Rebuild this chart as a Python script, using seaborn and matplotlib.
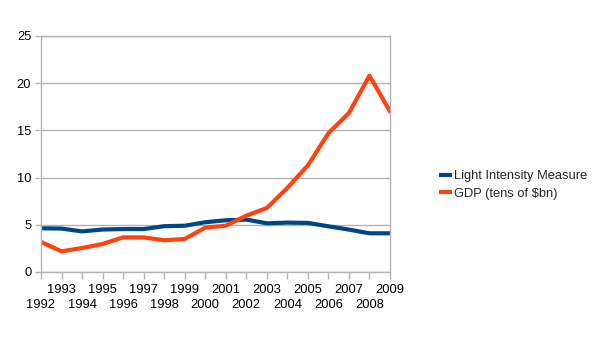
import matplotlib
matplotlib.use("Agg")
import matplotlib.pyplot as plt
import seaborn as sns
import pandas as pd
from matplotlib.lines import Line2D

years = list(range(1992, 2010))
light = [4.63, 4.6, 4.3, 4.5, 4.55, 4.55, 4.85, 4.9, 5.27, 5.48, 5.55, 5.16, 5.23, 5.2, 4.84, 4.49, 4.1, 4.1]
gdp = [3.18, 2.19, 2.54, 2.97, 3.67, 3.67, 3.36, 3.5, 4.7, 4.9, 5.97, 6.78, 8.9, 11.3, 14.7, 16.85, 20.8, 17.0]
series_names = ["Light Intensity Measure", "GDP (tens of $bn)"]
colors = ["#004586", "#ff420e"]
yticks = [0, 5, 10, 15, 20, 25]

df = pd.DataFrame({
    "year": years * 2,
    "value": light + gdp,
    "series": [series_names[0]] * len(years) + [series_names[1]] * len(years),
})

sns.set_style("white")
plt.rcParams["font.family"] = ["Liberation Sans", "DejaVu Sans"]
FS = 9.3

fig = plt.figure(figsize=(6.06, 3.41), dpi=100)
ax = fig.add_axes([41 / 606, 1 - 272 / 341, (390 - 41) / 606, (272 - 36) / 341])

sns.lineplot(data=df, x="year", y="value", hue="series", palette=colors,
             hue_order=series_names, linewidth=3.0, ax=ax, legend=False)

ax.set_xlim(1992, 2009)
ax.set_ylim(0, 25)
ax.set_yticks(yticks)
ax.set_yticklabels([str(t) for t in yticks], fontsize=FS)
odd_years = [y for y in years if y % 2 == 1]
even_years = [y for y in years if y % 2 == 0]
ax.set_xticks(odd_years)
ax.set_xticklabels([str(y) for y in odd_years], fontsize=FS)
ax.set_xticks(even_years, minor=True)
ax.set_xticklabels([str(y) for y in even_years], minor=True, fontsize=FS)
ax.set_xlabel("")
ax.set_ylabel("")
ax.grid(axis="y", color="#b3b3b3", linewidth=1)
ax.set_axisbelow(True)
for s in ax.spines.values():
    s.set_color("#b3b3b3")
    s.set_linewidth(1)
ax.tick_params(axis="y", which="major", direction="out", color="#b3b3b3",
               length=4, width=1, labelcolor="black", pad=3, left=True)
ax.tick_params(axis="x", which="major", direction="out", color="#b3b3b3",
               length=5, width=1, labelcolor="black", pad=3.5, bottom=True)
ax.tick_params(axis="x", which="minor", direction="out", color="#b3b3b3",
               length=5, width=1, labelcolor="black", pad=14.5, bottom=True)

handles = [Line2D([0], [0], color=c, linewidth=3, solid_capstyle="butt") for c in colors]
fig.legend(handles, series_names, loc="center left", bbox_to_anchor=(434 / 606, 1 - 185 / 341),
           frameon=False, fontsize=FS, handlelength=1.0, handletextpad=0.15, labelspacing=0.45,
           borderaxespad=0)

fig.savefig("out.png", dpi=100)
